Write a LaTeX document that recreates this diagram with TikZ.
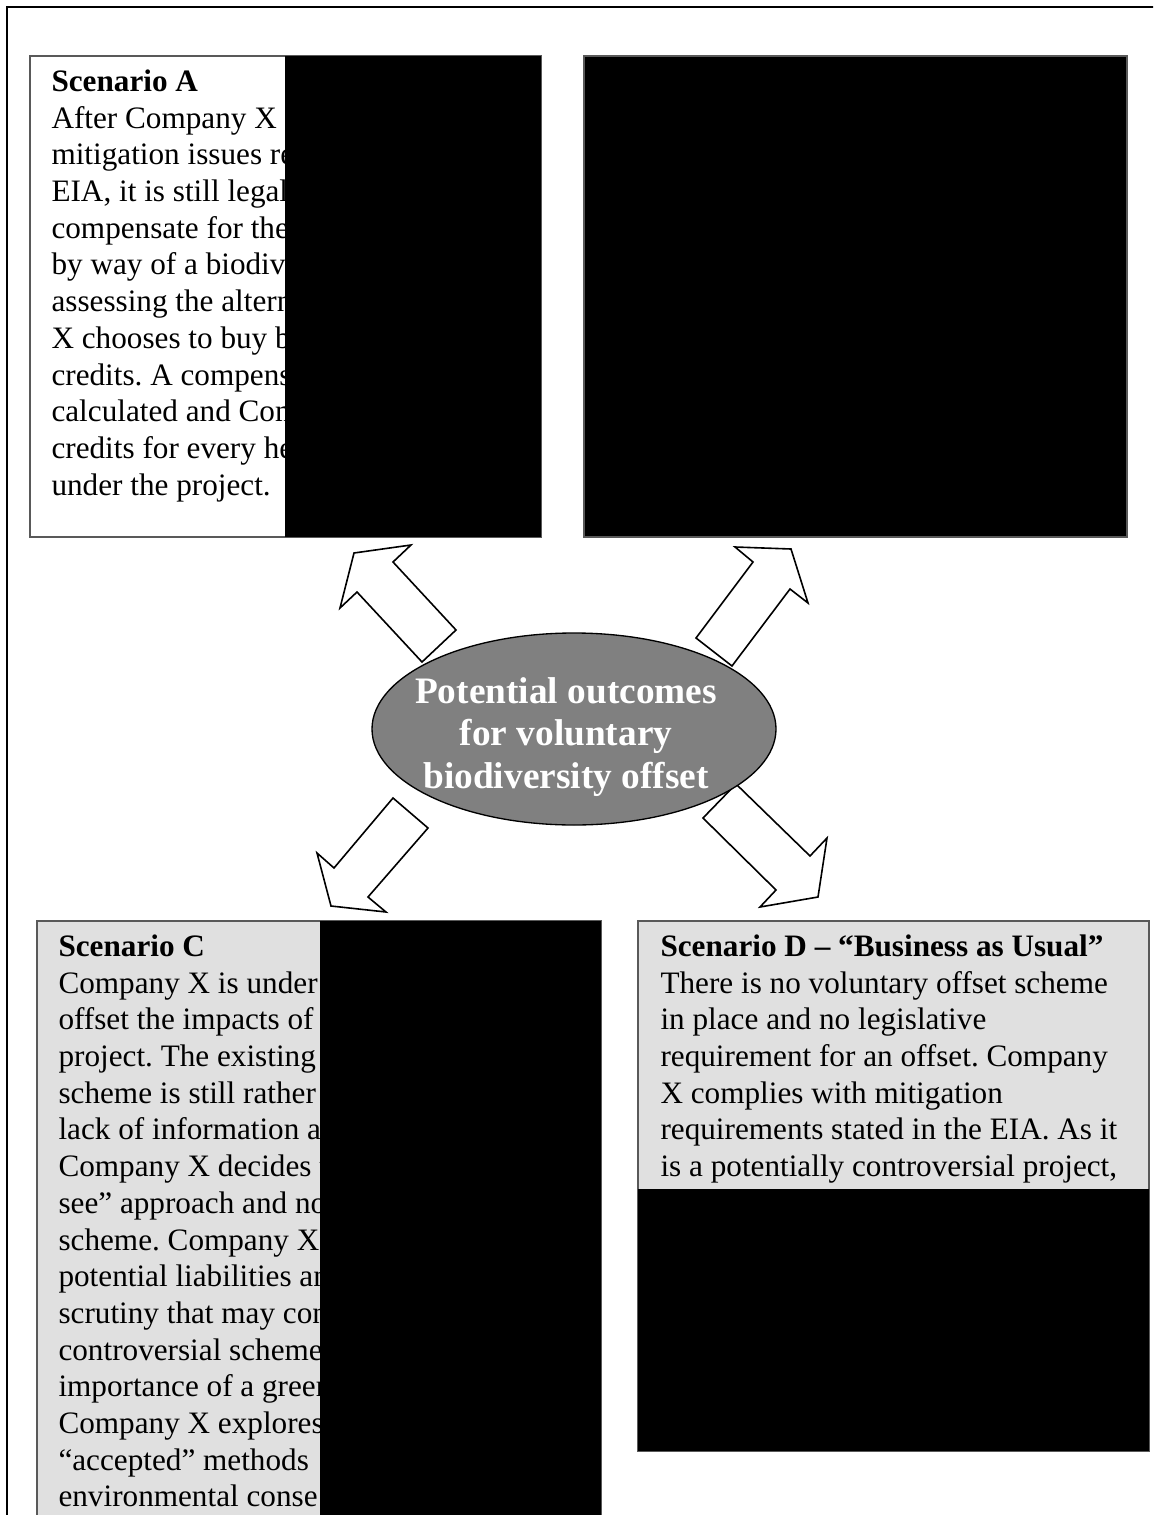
\documentclass[tikz,border=0pt]{standalone}
\usepackage{fontspec}
\setmainfont{Liberation Serif}
\usetikzlibrary{shapes.geometric}
\frenchspacing

\begin{document}
\begin{tikzpicture}[
x=0.375pt, y=-0.375pt,
frame/.style={draw=black, line width=0.75pt},
scenbox/.style={draw=black!65, line width=0.5pt},
shadebox/.style={scenbox, fill=black!12},
hidden/.style={fill=black},
scentext/.style={anchor=north west, inner sep=0pt, align=left, font=\fontsize{11.7pt}{13.76pt}\selectfont, execute at begin node={\rule{0pt}{10pt}}},
outcome/.style={ellipse, draw=black, fill=black!50, line width=0.5pt, minimum width=151.5pt, minimum height=72pt, inner sep=0pt},
outtext/.style={align=center, inner sep=0pt, text=white, font=\fontsize{14pt}{16pt}\selectfont\bfseries},
bigarrow/.style={draw=black, fill=white, line width=0.6pt, line join=miter},
]
\clip (0,0) rectangle (1153,1515);
\draw[frame] (7,1540) -- (7,7) -- (1170,7);

\draw[scenbox] (30,56) rectangle (541,537);
\node[scentext](ta) at (51,69.3) {\textbf{Scenario A}\\
After Company X a\\
mitigation issues re\\
EIA, it is still legall\\
compensate for the\\
by way of a biodive\\
assessing the altern\\
X chooses to buy b\\
credits. A compens\\
calculated and Com\\
credits for every he\\
under the project.};
\fill[hidden] (285,56) rectangle (541,537);

\draw[scenbox, fill=black] (584,56) rectangle (1127,537);

\draw[shadebox] (37,921) rectangle (601,1540);
\node[scentext](tc) at (58,934.3) {\textbf{Scenario C}\\
Company X is under\\
offset the impacts of\\
project. The existing\\
scheme is still rather\\
lack of information a\\
Company X decides t\\
see” approach and no\\
scheme. Company X\\
potential liabilities an\\
scrutiny that may con\\
controversial scheme\\
importance of a green\\
Company X explores\\
“accepted” methods\\
environmental conse};
\fill[hidden] (320,921) rectangle (601,1540);

\draw[shadebox] (638,921) rectangle (1149,1451);
\node[scentext](td) at (660,934.3) {\textbf{Scenario D – “Business as Usual”}\\
There is no voluntary offset scheme\\
in place and no legislative\\
requirement for an offset. Company\\
X complies with mitigation\\
requirements stated in the EIA. As it\\
is a potentially controversial project,};
\fill[hidden] (638,1189) rectangle (1149,1451);

\draw[bigarrow] (456,630) -- (393,562) -- (411,545) -- (354,553) -- (340,608) -- (357,592) -- (422,662) -- cycle;
\draw[bigarrow] (696,638) -- (753,562) -- (735,547) -- (791,549) -- (808,603) -- (790,589) -- (732,666) -- cycle;
\draw[bigarrow] (393,798) -- (428,828) -- (368,897) -- (386,912) -- (331,906) -- (317,853) -- (334,868) -- cycle;
\draw[bigarrow] (703,818) -- (776,890) -- (760,907) -- (818,897) -- (827,838) -- (810,856) -- (736,784) -- cycle;

\node[outcome](outcomes) at (574,729) {};
\node[outtext](outlabel) at (566,737) {Potential outcomes\\for voluntary\\biodiversity offset};
\end{tikzpicture}
\end{document}
